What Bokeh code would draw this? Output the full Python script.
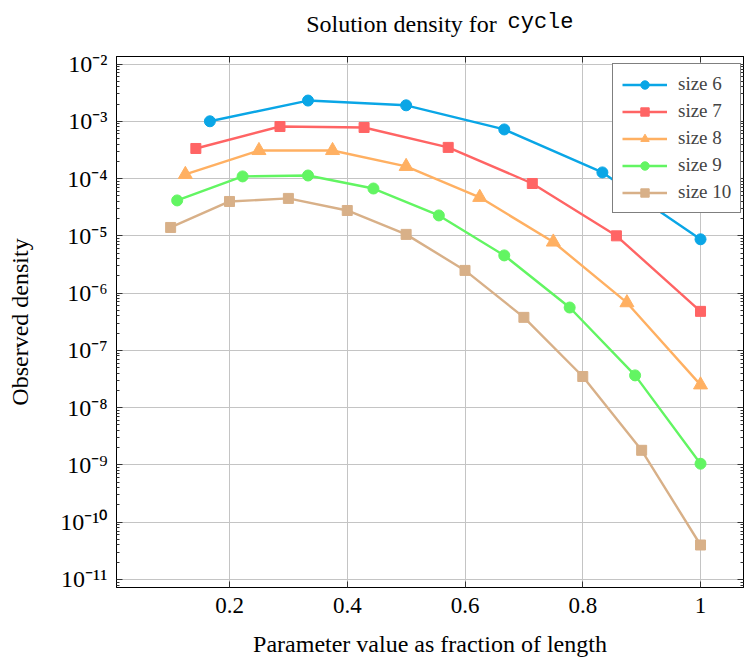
from bokeh.plotting import figure
from bokeh.models import (FixedTicker, LogAxis, LinearAxis, CustomJSTickFormatter,
                          Legend, LegendItem, Range1d)
from bokeh.embed import file_html
from bokeh.resources import INLINE

# ---------------- data ----------------
title_text = "Solution density for"
title_code = "cycle"
x_label = "Parameter value as fraction of length"
y_label = "Observed density"

series_names = ["size 6", "size 7", "size 8", "size 9", "size 10"]

x6 = [1/6, 2/6, 3/6, 4/6, 5/6, 6/6]
y6 = [1.0e-3, 2.3e-3, 1.9e-3, 7.2e-4, 1.28e-4, 8.7e-6]

x7 = [1/7, 2/7, 3/7, 4/7, 5/7, 6/7, 7/7]
y7 = [3.35e-4, 8.1e-4, 7.8e-4, 3.5e-4, 8.2e-5, 1.0e-5, 4.8e-7]

x8 = [1/8, 2/8, 3/8, 4/8, 5/8, 6/8, 7/8, 8/8]
y8 = [1.18e-4, 3.09e-4, 3.09e-4, 1.63e-4, 4.7e-5, 7.8e-6, 6.8e-7, 2.5e-8]

x9 = [1/9, 2/9, 3/9, 4/9, 5/9, 6/9, 7/9, 8/9, 9/9]
y9 = [4.15e-5, 1.09e-4, 1.13e-4, 6.7e-5, 2.27e-5, 4.55e-6, 5.6e-7, 3.66e-8, 1.05e-9]

x10 = [0.1, 0.2, 0.3, 0.4, 0.5, 0.6, 0.7, 0.8, 0.9, 1.0]
y10 = [1.4e-5, 3.98e-5, 4.5e-5, 2.77e-5, 1.06e-5, 2.49e-6, 3.77e-7, 3.5e-8, 1.8e-9, 4.0e-11]

x_ticks = [0.2, 0.4, 0.6, 0.8, 1.0]
y_ticks = [1e-11, 1e-10, 1e-9, 1e-8, 1e-7, 1e-6, 1e-5, 1e-4, 1e-3, 1e-2]
y_minor = [m * 10.0 ** k for k in range(-12, -1) for m in range(2, 10)]

colors = ["#0aa6e6", "#ff6464", "#ffb062", "#62f562", "#d8b088"]
markers = ["circle", "square", "triangle", "circle", "square"]
msizes = [11, 10, 14, 11, 10]

# ---------------- figure ----------------
SERIF = "Liberation Serif"
W, H = 744, 660

p = figure(width=W, height=H, y_axis_type="log",
           x_range=Range1d(0.00807, 1.0730), y_range=Range1d(10 ** -11.14, 10 ** -1.869),
           output_backend="svg", toolbar_location=None, title=None,
           min_border_left=116, min_border_right=1, min_border_top=56, min_border_bottom=73)
p.outline_line_color = "black"
p.outline_line_width = 1
p.background_fill_color = "white"

xticker = FixedTicker(ticks=x_ticks)
yticker = FixedTicker(ticks=y_ticks, minor_ticks=y_minor)

xf = CustomJSTickFormatter(code="return (Math.round(tick*10)/10).toString();")
yf = CustomJSTickFormatter(code="""
const e = Math.round(Math.log10(tick));
const m = {"-":"\\u207b","0":"\\u2070","1":"\\u00b9","2":"\\u00b2","3":"\\u00b3",
           "4":"\\u2074","5":"\\u2075","6":"\\u2076","7":"\\u2077","8":"\\u2078","9":"\\u2079"};
return "10" + String(e).split("").map(c => m[c]).join("");
""")
empty = CustomJSTickFormatter(code="return '';")

def style_axis(ax):
    ax.axis_line_color = "black"
    ax.major_tick_line_color = "#333333"
    ax.minor_tick_line_color = "#333333"
    ax.major_tick_in = 6
    ax.major_tick_out = 0
    ax.minor_tick_in = 3
    ax.minor_tick_out = 0
    ax.major_label_text_font = SERIF
    ax.major_label_text_font_size = "23px"
    ax.major_label_text_color = "black"
    ax.axis_label_text_font = SERIF
    ax.axis_label_text_font_size = "24px"
    ax.axis_label_text_font_style = "normal"
    ax.axis_label_text_color = "black"

xa = p.xaxis[0]
style_axis(xa)
xa.ticker = xticker
xa.formatter = xf
xa.axis_label = x_label
xa.major_label_standoff = 10
xa.axis_label_standoff = 15

ya = p.yaxis[0]
style_axis(ya)
ya.ticker = yticker
ya.formatter = yf
ya.major_label_text_font_size = "24px"
ya.axis_label = y_label
ya.major_label_standoff = 9
ya.axis_label_standoff = 24

top = LinearAxis(ticker=xticker, formatter=empty)
style_axis(top)
top.major_label_text_font_size = "0px"
top.major_label_standoff = 0
p.add_layout(top, "above")

right = LogAxis(ticker=yticker, formatter=empty)
style_axis(right)
right.major_label_text_font_size = "0px"
right.major_label_standoff = 0
p.add_layout(right, "right")

# title, built from two label-only top axes so that two fonts can be used
def title_axis(pos, txt, font, size, standoff):
    ax = LinearAxis(ticker=FixedTicker(ticks=[pos]),
                    formatter=CustomJSTickFormatter(code="return %r;" % txt))
    ax.axis_line_color = None
    ax.major_tick_line_color = None
    ax.minor_tick_line_color = None
    ax.major_tick_in = 0
    ax.major_tick_out = 0
    ax.major_label_text_font = font
    ax.major_label_text_font_size = size
    ax.major_label_text_color = "black"
    ax.major_label_standoff = standoff
    return ax

p.add_layout(title_axis(0.4921, title_text, SERIF, "24px", 20), "above")
p.add_layout(title_axis(0.7282, title_code, "Liberation Mono", "22px", -27), "above")

p.xgrid.ticker = xticker
p.ygrid.ticker = yticker
p.xgrid.grid_line_color = "#c4c4c4"
p.ygrid.grid_line_color = "#c4c4c4"
p.xgrid.grid_line_width = 1
p.ygrid.grid_line_width = 1

xs = [x6, x7, x8, x9, x10]
ys = [y6, y7, y8, y9, y10]
items = []
for name, xv, yv, c, mk, ms in zip(series_names, xs, ys, colors, markers, msizes):
    lr = p.line(xv, yv, line_color=c, line_width=2.4)
    sr = p.scatter(xv, yv, marker=mk, size=ms, fill_color=c, line_color=c)
    items.append(LegendItem(label=name, renderers=[lr, sr]))

legend = Legend(items=items, location=(496, 374))
legend.border_line_color = "black"
legend.border_line_width = 1
legend.background_fill_color = "white"
legend.background_fill_alpha = 1
legend.label_text_font = SERIF
legend.label_text_font_size = "19px"
legend.glyph_width = 45
legend.glyph_height = 21
legend.label_height = 21
legend.label_standoff = 11
legend.spacing = 5
legend.padding = 9
legend.margin = 0
p.add_layout(legend)

open("out.html", "w").write(file_html(p, INLINE))
